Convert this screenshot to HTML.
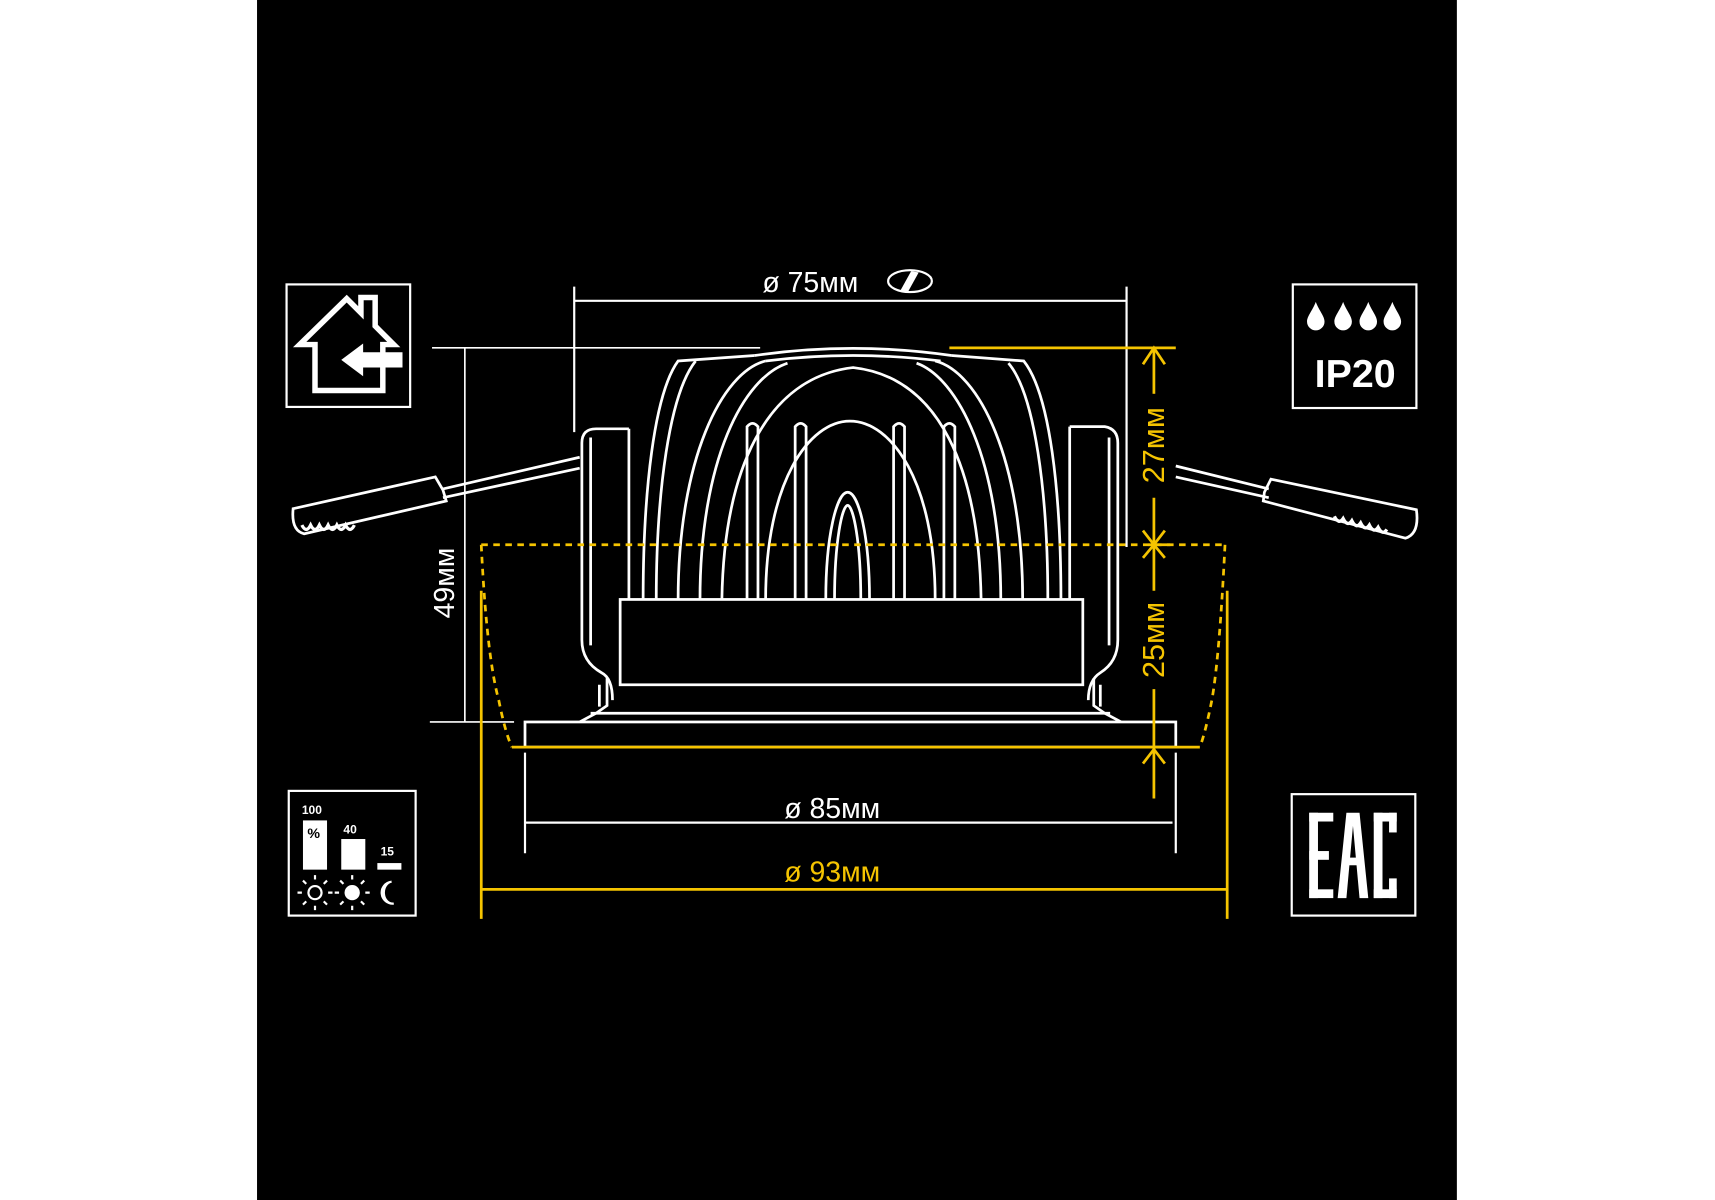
<!DOCTYPE html>
<html><head><meta charset="utf-8"><style>
html,body{margin:0;padding:0;background:#fff;}
svg{display:block;}
text{font-family:"Liberation Sans",sans-serif;}
</style></head><body>
<svg width="1715" height="1200" viewBox="0 0 1568 1097" preserveAspectRatio="none" xmlns="http://www.w3.org/2000/svg">
<rect x="0" y="0" width="1568" height="1097" fill="#fff"/>
<rect x="235" y="0" width="1097" height="1097" fill="#000"/>

<!-- icon boxes -->
<g fill="none" stroke="#fff" stroke-width="2">
<rect x="262" y="260" width="113" height="112"/>
<rect x="1182" y="260" width="113" height="113"/>
<rect x="264" y="723" width="116" height="114"/>
<rect x="1181" y="726" width="113" height="111"/>
</g>
<!-- house -->
<path d="M288,357 L288,315 L274,315 L317,273 L330,286 L330,272 L343,272 L343,298 L360,315 L350,315 L350,357 Z" fill="none" stroke="#fff" stroke-width="5"/>
<path d="M312,329 L332,314 L332,322 L368,322 L368,336 L332,336 L332,344 Z" fill="#fff"/>
<!-- drops -->
<g fill="#fff">
<path d="M1203,276 C1200,284 1195,289 1195,294 a8,8 0 0 0 16,0 C1211,289 1206,284 1203,276Z"/>
<path d="M1228,276 C1225,284 1220,289 1220,294 a8,8 0 0 0 16,0 C1236,289 1231,284 1228,276Z"/>
<path d="M1251,276 C1248,284 1243,289 1243,294 a8,8 0 0 0 16,0 C1259,289 1254,284 1251,276Z"/>
<path d="M1273,276 C1270,284 1265,289 1265,294 a8,8 0 0 0 16,0 C1281,289 1276,284 1273,276Z"/>
</g>
<text x="1239" y="354" fill="#fff" font-size="36" font-weight="bold" text-anchor="middle">IP20</text>
<!-- EAC -->
<g fill="#fff">
<rect x="1197" y="743" width="8" height="78"/><rect x="1197" y="743" width="22" height="8"/><rect x="1197" y="778" width="18" height="8"/><rect x="1197" y="813" width="22" height="8"/>
<path d="M1223,821 L1231,743 L1243,743 L1251,821 L1243,821 L1237,755 L1231,821Z"/><rect x="1229" y="784" width="16" height="7"/>
<rect x="1256" y="743" width="8" height="78"/><rect x="1256" y="743" width="21" height="8"/><rect x="1256" y="813" width="21" height="8"/>
<rect x="1270" y="743" width="7" height="18"/><rect x="1270" y="803" width="7" height="18"/>
</g>
<!-- dimmer -->
<text x="276" y="744" fill="#fff" font-size="11" font-weight="bold">100</text>
<rect x="277" y="750" width="22" height="45" fill="#fff"/>
<text x="281" y="766" fill="#000" font-size="13" font-weight="bold">%</text>
<text x="314" y="762" fill="#fff" font-size="11" font-weight="bold">40</text>
<rect x="312" y="767" width="22" height="28" fill="#fff"/>
<text x="348" y="782" fill="#fff" font-size="11" font-weight="bold">15</text>
<rect x="345" y="789" width="22" height="6" fill="#fff"/>
<g stroke="#fff" stroke-width="2" fill="none">
<circle cx="288" cy="816" r="6"/>
<path d="M288,804v-4M288,828v4M276,816h-4M300,816h4M280,808l-3,-3M296,824l3,3M296,808l3,-3M280,824l-3,3"/>
<circle cx="322" cy="816" r="6" fill="#fff"/>
<path d="M322,804v-4M322,828v4M310,816h-4M334,816h4M314,808l-3,-3M330,824l3,3M330,808l3,-3M314,824l-3,3"/>
<path d="M358,806 a10,10 0 0 0 2,20 a8,10 0 0 1 -2,-20Z" fill="#fff"/>
</g>

<!-- white dims -->
<g stroke="#fff" stroke-width="2" fill="none">
<line x1="525" y1="275" x2="1030" y2="275"/>
<line x1="525" y1="262" x2="525" y2="395"/>
<line x1="1030" y1="262" x2="1030" y2="500"/>
<line x1="395" y1="318" x2="695" y2="318" stroke-width="1.5"/>
<line x1="393" y1="660" x2="470" y2="660" stroke-width="1.5"/>
<line x1="425" y1="318" x2="425" y2="660" stroke-width="1.5"/>
<line x1="480" y1="752" x2="1072" y2="752"/>
<line x1="480" y1="688" x2="480" y2="780"/>
<line x1="1075" y1="688" x2="1075" y2="780"/>
</g>
<text x="697" y="267" fill="#fff" font-size="26">ø 75мм</text>
<ellipse cx="832" cy="257" rx="20" ry="10" fill="none" stroke="#fff" stroke-width="2"/>
<path d="M823,266 L833,248 L840,249 L830,267Z" fill="#fff"/>
<text transform="translate(415,533) rotate(-90)" fill="#fff" font-size="26" text-anchor="middle">49мм</text>
<text x="717" y="748" fill="#fff" font-size="26">ø 85мм</text>

<!-- fixture -->
<g stroke="#fff" stroke-width="2.5" fill="none">
<!-- clips -->
<path d="M575,392 L545,392 Q532,392 532,405 L532,585 Q532,605 550,615 Q560,620 560,640"/>
<path d="M540,400 L540,590"/>
<path d="M978,390 L1010,390 Q1022,392 1022,405 L1022,585 Q1022,605 1006,615 Q995,622 995,640"/>
<path d="M1014,400 L1014,590"/>
<line x1="575" y1="392" x2="575" y2="548"/>
<line x1="978" y1="390" x2="978" y2="548"/>
<!-- outer shell -->
<path d="M588,548 C588,450 598,360 620,330 L690,325"/>
<path d="M600,548 C600,450 612,360 636,330"/>
<path d="M970,548 C970,450 960,360 936,330 L870,325"/>
<path d="M958,548 C958,450 946,360 922,332"/>
<path d="M690,325 Q780,312 870,325"/>
<path d="M700,330 Q780,320 860,330"/>
<!-- inner domes -->
<path d="M620,548 C620,420 660,340 700,330"/>
<path d="M640,548 C640,420 680,345 720,332"/>
<path d="M935,548 C935,420 895,340 855,330"/>
<path d="M915,548 C915,420 875,345 838,332"/>
<path d="M660,548 C662,430 700,345 780,336 C860,345 895,430 897,548"/>
<path d="M700,548 C700,440 740,385 777,385 C815,385 855,440 855,548"/>
<!-- fins -->
<path d="M683,548 L683,390 Q688,384 693,390 L693,548"/>
<path d="M727,548 L727,390 Q732,384 737,390 L737,548"/>
<path d="M817,548 L817,390 Q822,384 827,390 L827,548"/>
<path d="M863,548 L863,390 Q868,384 873,390 L873,548"/>
<!-- center arch -->
<path d="M755,548 C755,490 765,450 775,450 C785,450 795,490 795,548"/>
<path d="M763,548 C763,495 770,462 775,462 C780,462 787,495 787,548"/>
<!-- body -->
<rect x="567" y="548" width="423" height="78" fill="#000"/>
<path d="M555,620 L555,645 L545,652 L530,660 M1000,620 L1000,645 L1010,652 L1025,660"/>
<path d="M548,626 L548,646 M1006,626 L1006,646"/>
<rect x="480" y="660" width="595" height="23" fill="#000"/>
<line x1="540" y1="652" x2="1015" y2="652"/>
</g>
<!-- springs -->
<g stroke="#fff" stroke-width="2.5" fill="none">
<path d="M405,447 L530,418 M405,455 L530,428"/>
<path d="M268,465 L398,436 L405,448 L408,458 L278,488 Q266,485 268,465Z"/>
<path d="M1160,447 L1075,426 M1160,455 L1075,436"/>
<path d="M1295,466 L1162,438 L1156,450 L1155,458 L1285,492 Q1298,488 1295,466Z"/>
</g>
<path d="M276,480 q4,8 8,0 q4,8 8,0 q4,8 8,0 q4,8 8,0 q4,8 8,0 q4,8 8,0" stroke="#fff" stroke-width="3" fill="none"/>
<path d="M1220,472 q4,8 8,2 q4,8 8,2 q4,8 8,2 q4,8 8,2 q4,8 8,2 q4,8 8,2" stroke="#fff" stroke-width="3" fill="none"/>

<!-- yellow -->
<g stroke="#f5c400" stroke-width="2.5" fill="none">
<line x1="440" y1="498" x2="1120" y2="498" stroke-dasharray="6,5"/>
<path d="M440,498 Q445,600 456,640 Q462,670 468,683" stroke-dasharray="6,5"/>
<path d="M1120,498 Q1115,600 1108,640 Q1102,670 1097,683" stroke-dasharray="6,5"/>
<line x1="468" y1="683" x2="1097" y2="683"/>
<line x1="868" y1="318" x2="1075" y2="318"/>
<line x1="1055" y1="320" x2="1055" y2="360"/>
<line x1="1055" y1="455" x2="1055" y2="540"/>
<line x1="1055" y1="630" x2="1055" y2="730"/>
<path d="M1045,333 L1055,318 L1065,333 M1045,485 L1055,498 L1065,485 M1045,510 L1055,498 L1065,510 M1045,698 L1055,685 L1065,698"/>
<line x1="1050" y1="498" x2="1070" y2="498"/>
<line x1="440" y1="540" x2="440" y2="840"/>
<line x1="1122" y1="540" x2="1122" y2="840"/>
<line x1="440" y1="813" x2="1122" y2="813"/>
</g>
<text transform="translate(1064,407) rotate(-90)" fill="#f5c400" font-size="28" text-anchor="middle">27мм</text>
<text transform="translate(1064,585) rotate(-90)" fill="#f5c400" font-size="28" text-anchor="middle">25мм</text>
<text x="717" y="806" fill="#f5c400" font-size="26">ø 93мм</text>
</svg>
</body></html>
